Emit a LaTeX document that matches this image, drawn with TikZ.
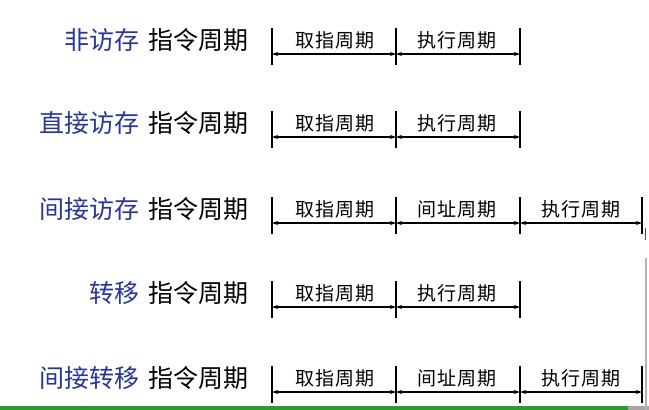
\documentclass[tikz,border=0pt]{standalone}
\usepackage{fontspec}
\setmainfont{Noto Sans CJK SC}
\usetikzlibrary{arrows.meta}
\definecolor{kwblue}{RGB}{40,55,150}
\definecolor{bargreen}{RGB}{40,160,40}
\begin{document}
\begin{tikzpicture}[x=1pt,y=-1pt,
  kind/.style={anchor=east,inner sep=0pt,font=\fontsize{25}{25}\selectfont},
  seglabel/.style={inner sep=0pt,font=\fontsize{19}{19}\selectfont},
  tick/.style={line width=1.6pt},
  span/.style={line width=1.3pt,{Stealth[length=6pt,width=4pt]}-{Stealth[length=6pt,width=4pt]}}]
\useasboundingbox (0,0) rectangle (649,410);
\fill[white] (0,0) rectangle (649,410);
% rows: text y, arrow y
\foreach \name/\blue/\ty/\n/\mid in {r1/非访存/40/2/执行周期, r2/直接访存/123/2/执行周期, r3/间接访存/209/3/间址周期, r4/转移/293/2/执行周期, r5/间接转移/378/3/间址周期}{
  \node[kind] (\name k) at (249,\ty) {\textcolor{kwblue}{\blue}\hspace{9pt}指令周期};
  \coordinate (\name a) at (272,\ty+14);
  \coordinate (\name b) at (396,\ty+14);
  \coordinate (\name c) at (520,\ty+14);
  \coordinate (\name d) at (642,\ty+14);
  \draw[tick] (272,\ty-12) -- (272,\ty+25);
  \draw[tick] (396,\ty-12) -- (396,\ty+25);
  \draw[tick] (520,\ty-12) -- (520,\ty+25);
  \draw[span] (\name a) -- (\name b);
  \draw[span] (\name b) -- (\name c);
  \node[seglabel] (\name l1) at (335,\ty) {\addfontfeatures{LetterSpace=6}取指周期};
  \node[seglabel] (\name l2) at (457,\ty) {\addfontfeatures{LetterSpace=6}\mid};
}
\foreach \name/\ty in {r3/209, r5/378}{
  \draw[tick] (642,\ty-12) -- (642,\ty+25);
  \draw[span] (\name c) -- (\name d);
  \node[seglabel] (\name l3) at (581,\ty) {\addfontfeatures{LetterSpace=6}执行周期};
}
% screen artifacts
\fill[bargreen] (0,406) rectangle (628,410);
\fill[gray!70] (628,406) rectangle (649,410);
\draw[gray!60,line width=1.5pt] (646,258) -- (646,410);
\draw[black!70,line width=1pt] (645,228) -- (645,240);
\end{tikzpicture}
\end{document}
